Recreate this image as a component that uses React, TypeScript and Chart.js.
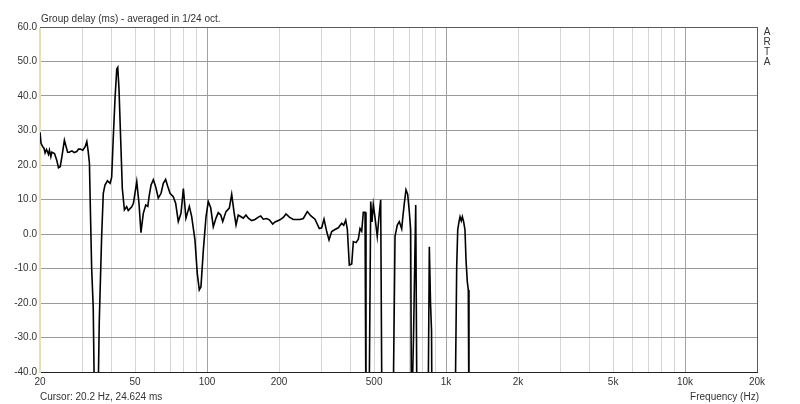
import React, { useEffect, useRef } from "react";
import { Chart, registerables } from "chart.js";

Chart.register(...registerables);

// Frequency (Hz) of each sample of the group-delay curve
const FREQS = [
  20.0, 20.2, 20.5, 20.8, 21.0, 21.3, 21.7, 21.9, 22.2, 22.4, 23.0, 23.5, 23.9, 24.3, 24.7,
  25.3, 25.7, 26.1, 26.5, 27.2, 27.8, 28.5, 29.0, 29.5, 30.2, 30.9, 31.4, 31.8, 32.2, 32.4,
  32.9, 33.4, 33.7, 34.3, 35.1, 35.4, 36.2, 36.8, 37.4, 38.3, 39.3, 39.9, 40.5, 41.2, 41.9,
  42.3, 42.8, 43.5, 44.2, 45.1, 46.1, 46.8, 48.4, 49.2, 50.8, 51.9, 52.9, 54.1, 55.4, 56.5,
  57.2, 58.3, 59.6, 61.0, 62.5, 64.2, 65.6, 67.1, 68.4, 70.0, 72.2, 73.9, 75.8, 77.8, 79.6,
  81.6, 84.3, 86.2, 89.0, 91.0, 92.8, 94.3, 96.5, 99.0, 101.2, 103.6, 106.2, 109.0, 111.4,
  114.1, 116.3, 120.0, 123.9, 126.8, 129.6, 132.2, 135.1, 138.7, 141.8, 145.5, 148.8, 153.8,
  158.7, 163.9, 167.7, 171.9, 177.6, 182.2, 188.2, 192.5, 201.9, 208.5, 214.0, 220.9, 229.5,
  244.8, 252.8, 262.7, 271.4, 282.9, 294.9, 301.8, 308.6, 316.7, 323.8, 332.3, 343.1, 354.2,
  365.9, 373.1, 380.4, 386.3, 393.7, 403.0, 409.3, 420.1, 429.5, 436.5, 443.7, 450.6, 458.1,
  462.4, 476.0, 483.9, 489.9, 496.1, 504.3, 515.4, 524.0, 532.7, 539.5, 599.8, 611.6, 625.2,
  637.3, 652.2, 658.5, 668.8, 679.9, 691.0, 701.8, 711.2, 716.8, 730.9, 746.6, 755.9, 840.5,
  851.2, 861.0, 869.4, 873.6, 1090, 1108, 1119, 1133, 1144, 1158, 1170, 1185, 1200, 1212,
  1227, 1239, 1247,
];

// Group delay (ms) at each frequency above
const DELAY = [
  29.5, 26.3, 25.4, 24.8, 23.5, 24.5, 23.1, 24.3, 22.4, 23.7, 23.3, 21.4, 19.2, 19.5, 22.4,
  27.2, 25.4, 23.7, 23.7, 24.1, 23.6, 23.9, 24.6, 24.6, 24.3, 25.3, 26.8, 24.1, 20.5, 11.3,
  -9.9, -21.4, -42, -55, -42, -25.4, -1.3, 11.8, 14.2, 15.4, 14.7, 16.5, 27.7, 39.3, 47.8,
  48.3, 42.2, 27.7, 13.2, 7.0, 7.9, 6.8, 7.9, 8.9, 15.2, 8.9, 0.4, 6.0, 8.4, 8.0,
  10.8, 14.2, 15.7, 13.6, 10.4, 11.8, 14.7, 15.8, 13.9, 11.8, 10.8, 8.9, 3.6, 6.0, 13.2,
  4.6, 8.0, 5.1, -1.7, -11.4, -16.2, -15.3, -4.6, 5.0, 9.4, 7.6, 2.1, 4.6, 6.2,
  5.5, 3.6, 6.5, 7.5, 11.5, 6.5, 2.6, 5.5, 5.0, 4.6, 5.5, 4.6, 3.9,
  4.2, 4.9, 5.2, 4.3, 4.5, 4.1, 2.9, 3.5, 4.1, 4.8, 5.8, 4.9, 4.2,
  4.2, 4.5, 6.5, 5.3, 4.3, 1.6, 1.8, 4.3, 0.7, -1.7, 0.7, 1.3, 1.8,
  3.1, 2.5, 4.0, 1.4, -9.0, -8.7, -2.2, -2.5, -1.5, 1.6, 0.8, 6.3, 6.3,
  -55, -55, 9.4, 3.5, 8.5, 4.8, -0.7, 5.0, 9.9, -55, -55, -0.7, 2.6,
  3.6, 1.5, 4.5, 8.9, 12.8, 11.5, 6.5, 1.2, -55, -30, 8.4, -55, -55,
  -3.7, -20, -28, -55, -55, -9.5, 1.2, 3.6, 5.0, 3.8, 5.0, 3.5, 1.2, -7.5,
  -13.8, -16.2, -55,
];

const Y_TICKS = [60, 50, 40, 30, 20, 10, 0, -10, -20, -30, -40];
const Y_TICK_LABELS = ["60.0", "50.0", "40.0", "30.0", "20.0", "10.0", "0.0", "-10.0", "-20.0", "-30.0", "-40.0"];

const X_GRID = [
  20, 30, 40, 50, 60, 70, 80, 90, 100, 200, 300, 400, 500, 600, 700, 800, 900,
  1000, 2000, 3000, 4000, 5000, 6000, 7000, 8000, 9000, 10000, 20000,
];
const X_DECADES = [100, 1000, 10000];
const X_LABEL_VALUES = [20, 50, 100, 200, 500, 1000, 2000, 5000, 10000, 20000];
const X_LABELS = ["20", "50", "100", "200", "500", "1k", "2k", "5k", "10k", "20k"];

const TITLE = "Group delay (ms) - averaged in 1/24 oct.";
const CURSOR_TEXT = "Cursor: 20.2 Hz, 24.624 ms";
const X_TITLE = "Frequency (Hz)";
const SIDE_TEXT = "ARTA";

const FONT = '10px "Liberation Sans", Arial, sans-serif';
const TEXT_COLOR = "#333333";

const overlayPlugin = {
  id: "artaOverlay",
  beforeDatasetsDraw(chart: any) {
    const { ctx, chartArea: a } = chart;
    ctx.save();
    ctx.lineWidth = 1;
    // top border
    ctx.strokeStyle = "#5a5a5a";
    ctx.beginPath();
    ctx.moveTo(a.left, Math.round(a.top) + 0.5);
    ctx.lineTo(a.right + 1, Math.round(a.top) + 0.5);
    ctx.stroke();
    // right border
    ctx.beginPath();
    ctx.moveTo(Math.round(a.right) + 0.5, a.top);
    ctx.lineTo(Math.round(a.right) + 0.5, a.bottom + 1);
    ctx.stroke();
    // bottom border
    ctx.strokeStyle = "#222222";
    ctx.beginPath();
    ctx.moveTo(a.left, Math.round(a.bottom) + 0.5);
    ctx.lineTo(a.right + 1, Math.round(a.bottom) + 0.5);
    ctx.stroke();
    // left (yellowish) axis line
    ctx.fillStyle = "#e4e1b0";
    ctx.fillRect(Math.round(a.left) - 1, a.top + 1, 2, a.bottom - a.top);
    ctx.restore();
  },
  afterDraw(chart: any) {
    const { ctx, chartArea: a, scales } = chart;
    ctx.save();
    ctx.font = FONT;
    ctx.fillStyle = TEXT_COLOR;

    // title
    ctx.textAlign = "left";
    ctx.textBaseline = "alphabetic";
    ctx.fillText(TITLE, a.left + 1, a.top - 5);

    // y tick labels
    ctx.textAlign = "right";
    ctx.textBaseline = "middle";
    Y_TICKS.forEach((v, i) => {
      const y = scales.y.getPixelForValue(v);
      ctx.fillText(Y_TICK_LABELS[i], a.left - 3, y);
    });

    // x tick labels
    ctx.textAlign = "center";
    X_LABEL_VALUES.forEach((v, i) => {
      const x = scales.x.getPixelForValue(v);
      ctx.fillText(X_LABELS[i], x, a.bottom + 10.5);
    });

    // cursor readout + axis title
    ctx.textAlign = "left";
    ctx.fillText(CURSOR_TEXT, a.left, a.bottom + 25);
    ctx.textAlign = "right";
    ctx.fillText(X_TITLE, a.right + 2, a.bottom + 25);

    // vertical ARTA letters
    ctx.textAlign = "center";
    SIDE_TEXT.split("").forEach((ch, i) => {
      ctx.fillText(ch, a.right + 10, a.top + 5 + i * 10);
    });
    ctx.restore();
  },
};

export default function App() {
  const canvasRef = useRef<HTMLCanvasElement | null>(null);

  useEffect(() => {
    document.body.style.margin = "0";
    const canvas = canvasRef.current;
    if (!canvas) return;
    const points = FREQS.map((f, i) => ({ x: f, y: DELAY[i] }));
    const chart = new Chart(canvas, {
      type: "line",
      data: {
        datasets: [
          {
            data: points,
            borderColor: "#000000",
            borderWidth: 1.6,
            pointRadius: 0,
            tension: 0,
            fill: false,
          },
        ],
      },
      options: {
        responsive: false,
        animation: false,
        devicePixelRatio: 1,
        layout: { padding: { left: 0, top: 27, right: 43, bottom: 0 } },
        plugins: {
          legend: { display: false },
          tooltip: { enabled: false },
          title: { display: false },
        },
        events: [],
        scales: {
          x: {
            type: "logarithmic",
            min: 20,
            max: 20000,
            position: "bottom",
            ticks: { display: false },
            afterBuildTicks: (scale: any) => {
              scale.ticks = X_GRID.map((v) => ({ value: v }));
            },
            afterFit: (scale: any) => {
              scale.height = 32;
            },
            grid: {
              drawTicks: false,
              lineWidth: 1,
              color: (ctx: any) =>
                X_DECADES.includes(ctx.tick?.value) ? "#a2a2a2" : "#d6d6d6",
            },
            border: { display: false },
          },
          y: {
            type: "linear",
            min: -40,
            max: 60,
            ticks: { display: false, stepSize: 10 },
            afterFit: (scale: any) => {
              scale.width = 40;
            },
            grid: { drawTicks: false, lineWidth: 1, color: "#9a9a9a" },
            border: { display: false },
          },
        },
      },
      plugins: [overlayPlugin],
    } as any);
    return () => chart.destroy();
  }, []);

  return (
    <div style={{ position: "absolute", left: 0, top: 0, width: 800, height: 404, background: "#fff" }}>
      <canvas ref={canvasRef} width={800} height={404} style={{ display: "block" }} />
    </div>
  );
}
